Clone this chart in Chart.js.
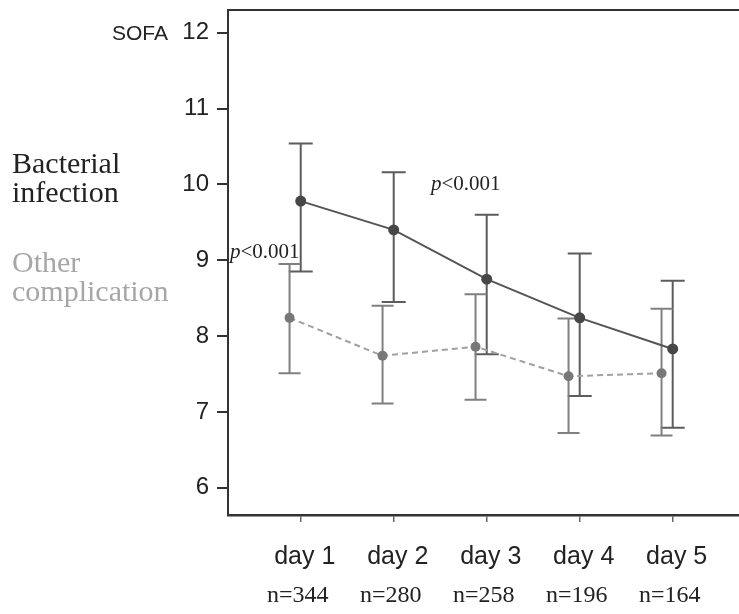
<!DOCTYPE html>
<html>
<head>
<meta charset="utf-8">
<script src="https://cdn.jsdelivr.net/npm/chart.js@4/dist/chart.umd.min.js"></script>
<style>
  html, body { margin: 0; padding: 0; background: #fff; }
  #wrap { width: 739px; height: 614px; }
</style>
</head>
<body>
<div id="wrap"><canvas id="sofaChart"></canvas></div>
<script>
// SOFA score per day: mean with error bars for both patient groups
const days = ["day 1", "day 2", "day 3", "day 4", "day 5"];
const patientCounts = ["n=344", "n=280", "n=258", "n=196", "n=164"];
const bacterialMean = [9.78, 9.40, 8.75, 8.24, 7.83];
const bacterialLow = [8.85, 8.45, 7.76, 7.21, 6.79];
const bacterialHigh = [10.54, 10.16, 9.60, 9.09, 8.73];
const otherMean = [8.24, 7.74, 7.86, 7.47, 7.51];
const otherLow = [7.51, 7.11, 7.16, 6.72, 6.69];
const otherHigh = [8.95, 8.40, 8.55, 8.23, 8.36];
const yTicks = [6, 7, 8, 9, 10, 11, 12];
const otherShift = 0.12; // nudge the second group left so the bars don't overlap

const dayTicks = (scale) => { scale.ticks = days.map((d, i) => ({ value: i + 1 })); };

// whiskers with caps, drawn under the lines and points
const errorBars = {
    id: "errorBars",
    beforeDatasetsDraw(chart) {
        const ctx = chart.ctx;
        const xs = chart.scales.x, ys = chart.scales.y;
        chart.data.datasets.forEach(ds => {
            ctx.save();
            ctx.strokeStyle = ds.barColor;
            ctx.lineWidth = 2;
            ds.data.forEach((pt, i) => {
                const px = xs.getPixelForValue(pt.x);
                const top = ys.getPixelForValue(ds.high[i]);
                const bot = ys.getPixelForValue(ds.low[i]);
                ctx.beginPath();
                ctx.moveTo(px, top); ctx.lineTo(px, bot);
                ctx.moveTo(px - ds.capHalf, top); ctx.lineTo(px + ds.capHalf, top);
                ctx.moveTo(px - ds.capHalf, bot); ctx.lineTo(px + ds.capHalf, bot);
                ctx.stroke();
            });
            ctx.restore();
        });
    }
};

function pText(ctx, x, y) {
    ctx.font = "italic 21px 'Liberation Serif'";
    ctx.fillText("p", x, y);
    const w = ctx.measureText("p").width;
    ctx.font = "21px 'Liberation Serif'";
    ctx.fillText("<0.001", x + w, y);
}

// frame top, axis caption, group names and p values
const annotations = {
    id: "annotations",
    afterDraw(chart) {
        const ctx = chart.ctx;
        const area = chart.chartArea;
        const xs = chart.scales.x, ys = chart.scales.y;
        ctx.save();
        ctx.strokeStyle = "#333";
        ctx.lineWidth = 2;
        ctx.beginPath();
        ctx.moveTo(area.left - 1, area.top);
        ctx.lineTo(chart.width, area.top);
        ctx.stroke();

        ctx.fillStyle = "#222";
        ctx.textBaseline = "alphabetic";
        ctx.textAlign = "right";
        ctx.font = "21px 'Liberation Sans'";
        ctx.fillText("SOFA", 168, ys.getPixelForValue(12) + 7);

        ctx.textAlign = "left";
        ctx.font = "30px 'Liberation Serif'";
        ctx.fillText("Bacterial", 12, 173);
        ctx.fillText("infection", 12, 202);
        ctx.fillStyle = "#a6a6a6";
        ctx.fillText("Other", 12, 272);
        ctx.fillText("complication", 12, 301);

        ctx.fillStyle = "#222";
        pText(ctx, area.left + 2, ys.getPixelForValue(9.03));
        pText(ctx, xs.getPixelForValue(2.4), ys.getPixelForValue(9.93));
        ctx.restore();
    }
};

new Chart(document.getElementById("sofaChart"), {
    type: "line",
    data: {
        datasets: [
            {
                label: "Bacterial infection",
                data: bacterialMean.map((v, i) => ({ x: i + 1, y: v })),
                low: bacterialLow, high: bacterialHigh,
                barColor: "#5c5c5c", capHalf: 12,
                borderColor: "#555",
                borderWidth: 2,
                pointRadius: 5.5,
                pointBackgroundColor: "#474747",
                pointBorderWidth: 0,
                xAxisID: "x", yAxisID: "y"
            },
            {
                label: "Other complication",
                data: otherMean.map((v, i) => ({ x: i + 1 - otherShift, y: v })),
                low: otherLow, high: otherHigh,
                barColor: "#808080", capHalf: 11,
                borderColor: "#a0a0a0",
                borderDash: [6, 4],
                borderWidth: 2,
                pointRadius: 5,
                pointBackgroundColor: "#787878",
                pointBorderWidth: 0,
                xAxisID: "x", yAxisID: "y"
            }
        ]
    },
    options: {
        responsive: true,
        maintainAspectRatio: false,
        animation: false,
        layout: { autoPadding: false, padding: { top: 10, left: 0, right: 0, bottom: 0 } },
        plugins: { legend: { display: false }, tooltip: { enabled: false } },
        scales: {
            x: {
                type: "linear",
                min: 0.218, max: 5.713,
                afterBuildTicks: dayTicks,
                afterFit: (scale) => { scale.height = 55; scale.paddingLeft = 0; scale.paddingRight = 0; },
                border: { color: "#333", width: 2.5 },
                grid: { drawOnChartArea: false, drawTicks: true, tickLength: 7, color: "#666", lineWidth: 1.5 },
                ticks: {
                    callback: (v) => days[Math.round(v) - 1],
                    font: { family: "'Liberation Sans'", size: 25 },
                    color: "#222",
                    padding: 20,
                    labelOffset: 4,
                    maxRotation: 0,
                    autoSkip: false
                }
            },
            x2: {
                type: "linear",
                axis: "x",
                position: "bottom",
                min: 0.218, max: 5.713,
                afterBuildTicks: dayTicks,
                afterFit: (scale) => { scale.height = 44; scale.paddingLeft = 0; scale.paddingRight = 0; },
                border: { display: false },
                grid: { display: false },
                ticks: {
                    callback: (v) => patientCounts[Math.round(v) - 1],
                    font: { family: "'Liberation Serif'", size: 24 },
                    color: "#222",
                    padding: 3,
                    labelOffset: -3,
                    maxRotation: 0,
                    autoSkip: false
                }
            },
            y: {
                type: "linear",
                min: 5.64, max: 12.3,
                afterBuildTicks: (scale) => { scale.ticks = yTicks.map(v => ({ value: v })); },
                afterFit: (scale) => { scale.width = 228; scale.paddingTop = 0; scale.paddingBottom = 0; },
                border: { color: "#333", width: 2 },
                grid: { drawOnChartArea: false, drawTicks: true, tickLength: 11, color: "#333", lineWidth: 2 },
                ticks: {
                    font: { family: "'Liberation Sans'", size: 24 },
                    color: "#222",
                    padding: 8
                }
            }
        }
    },
    plugins: [errorBars, annotations]
});
</script>
</body>
</html>
